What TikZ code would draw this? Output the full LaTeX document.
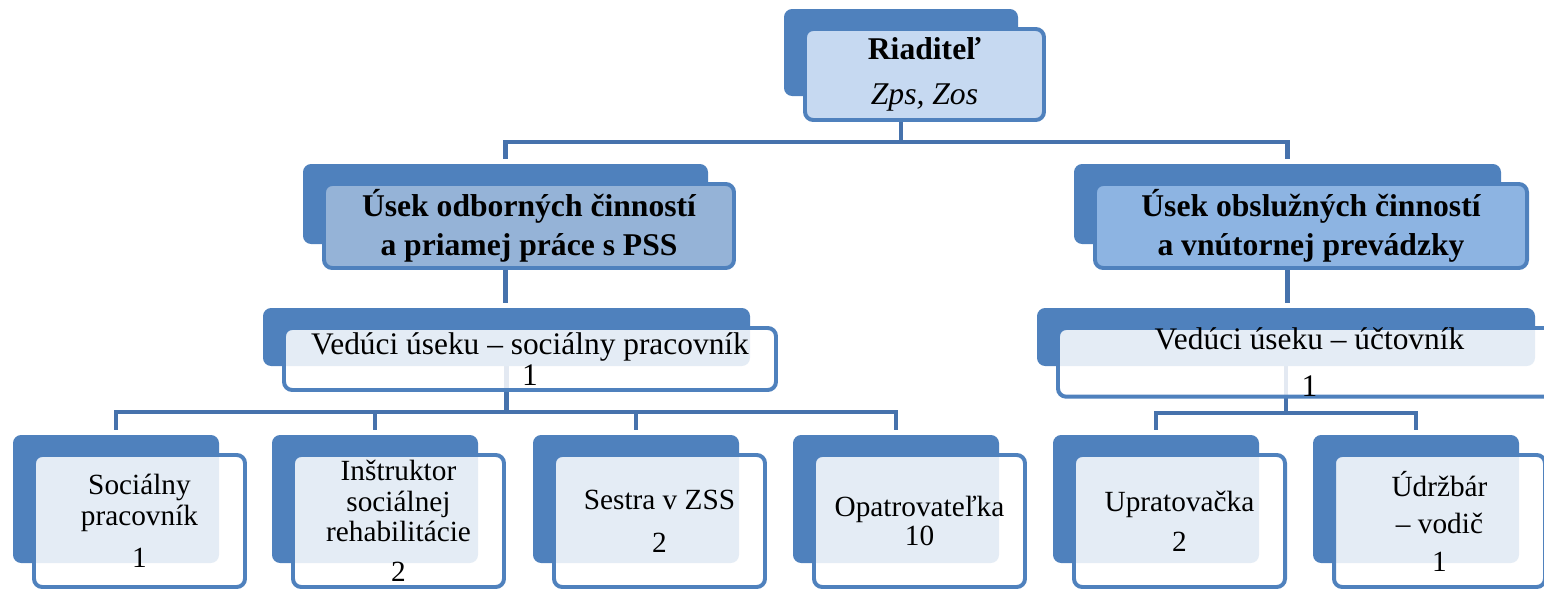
\documentclass[tikz,border=0pt]{standalone}
\usepackage{fontspec}
\setmainfont{Liberation Serif}
\usetikzlibrary{backgrounds}

\definecolor{boxblue}{HTML}{4F81BD}
\definecolor{linkblue}{HTML}{4672AC}
\definecolor{topfill}{HTML}{C6D9F1}
\definecolor{odbfill}{HTML}{95B3D7}
\definecolor{obsfill}{HTML}{8DB4E2}

\newcommand{\pxu}{0.015cm}
\newcommand{\lowfont}{\fontsize{12.5}{13}\selectfont}
\newcommand{\midfont}{\fontsize{13.4}{13}\selectfont}
\newcommand{\headfont}{\bfseries\fontsize{13.5}{16.6}\selectfont}

\tikzset{
  backbox/.style={rectangle,rounded corners=3.5pt,fill=boxblue,inner sep=0pt,outer sep=0pt,anchor=north west},
  frontbox/.style={rectangle,rounded corners=3.5pt,draw=boxblue,line width=1.7pt,fill=white,fill opacity=0.85,text opacity=1,
    inner sep=0pt,outer sep=0pt,anchor=north west,align=center,font=\lowfont},
  conn/.style={draw=linkblue,line width=2pt},
}

% back box at (x,y), front box shifted down right
\newcommand{\orgbox}[7][]{%
  \node[backbox,minimum width=#5*\pxu,minimum height=#6*\pxu] (#2-b) at (#3,#4) {};
  \node[frontbox,#1,minimum width=(#5+5)*\pxu,minimum height=(#6+4)*\pxu] (#2) at (#3+21,#4+20) {#7};
}

\begin{document}
\begin{tikzpicture}[x=\pxu,y=-\pxu]
\useasboundingbox (0,0) rectangle (1544,589);

\orgbox[fill=topfill,fill opacity=1,font=\fontsize{13.5}{15}\selectfont]{riad}{784}{9}{234}{87}{\textbf{Riaditeľ}\\[4.5pt]\textit{Zps, Zos}}

\orgbox[fill=odbfill,fill opacity=1,font=\headfont]{odb}{303}{164}{405}{80}{Úsek odborných činností\\a priamej práce s PSS}
\orgbox[fill=obsfill,fill opacity=1,font=\headfont]{obs}{1074}{164}{427}{80}{Úsek obslužných činností\\a vnútornej prevádzky}

\orgbox[font=\midfont]{ved1}{263}{308}{487}{58}{Vedúci úseku – sociálny pracovník\\1}
\orgbox[font=\midfont]{ved2}{1037}{308}{498}{58}{Vedúci úseku – účtovník\\[7pt]1}

\orgbox{soc}{13}{435}{206}{128}{Sociálny\\pracovník\\[5pt]1}
\orgbox{instr}{272}{435}{206}{128}{Inštruktor\\sociálnej\\rehabilitácie\\[4pt]2}
\orgbox{ses}{533}{435}{206}{128}{Sestra v ZSS\\[5.5pt]2}
\orgbox{opat}{793}{435}{206}{128}{Opatrovateľka\\[-1pt]10}
\orgbox{uprat}{1053}{435}{206}{128}{Upratovačka\\[4pt]2}
\orgbox{udrz}{1313}{435}{206}{128}{Údržbár\\[3pt]– vodič\\[3pt]1}

\begin{scope}[on background layer]
\coordinate (bus1) at (901,142);
\coordinate (bus2) at (506.5,412);
\coordinate (bus3) at (1286,413);
\draw[conn] (riad-b.center) -- (bus1);
\foreach \c in {odb,obs}
	\draw[conn,shorten >=2pt] (bus1) -| (\c-b.north);
\draw[conn,shorten >=2pt] (odb-b.center) -- (odb-b.center |- ved1-b.north);
\draw[conn,shorten >=2pt] (obs-b.center) -- (obs-b.center |- ved2-b.north);
\draw[conn] (ved1-b.center) -- (bus2);
\foreach \c in {soc,instr,ses,opat}
	\draw[conn,shorten >=2pt] (bus2) -| (\c-b.north);
\draw[conn] (ved2-b.center) -- (bus3);
\foreach \c in {uprat,udrz}
	\draw[conn,shorten >=2pt] (bus3) -| (\c-b.north);
\end{scope}
\end{tikzpicture}
\end{document}
